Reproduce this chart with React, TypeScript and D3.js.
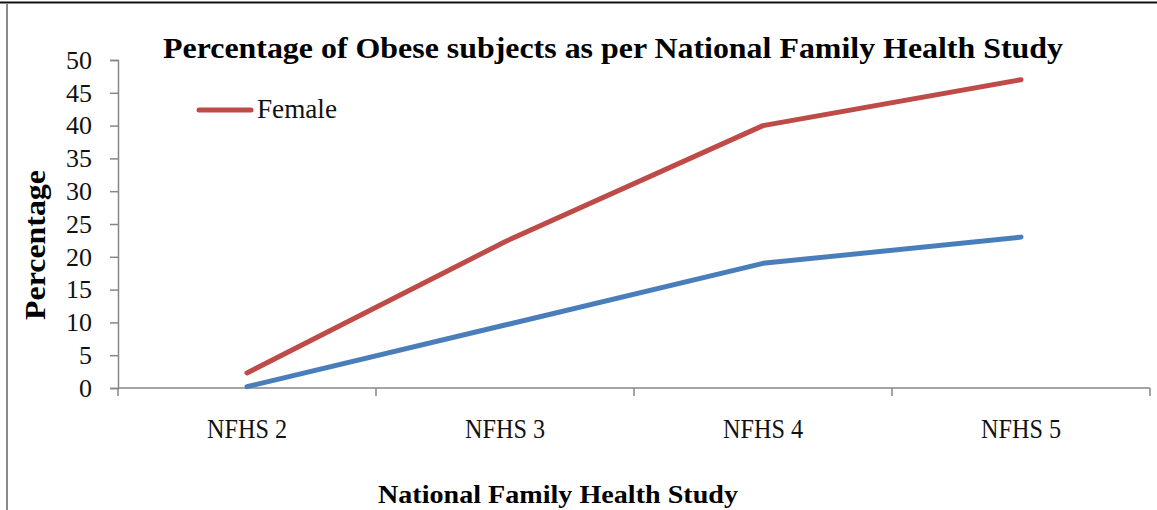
import React, { useEffect, useRef } from 'react';
import * as d3 from 'd3';

// data
const categories = ['NFHS 2', 'NFHS 3', 'NFHS 4', 'NFHS 5'];
const female = [2.3, 22.3, 40, 47];
const male = [0.2, 9.6, 19, 23];
const yTicks = [0, 5, 10, 15, 20, 25, 30, 35, 40, 45, 50];

const App = () => {
  const ref = useRef<SVGSVGElement>(null);

  useEffect(() => {
    const width = 1157;
    const height = 510;
    // plot area
    const left = 118;
    const right = 1150;
    const top = 60;
    const bottom = 388;

    const svg = d3.select(ref.current);
    svg.selectAll('*').remove();
    svg.attr('width', width).attr('height', height);

    svg.append('rect').attr('width', width).attr('height', height).attr('fill', '#fff');

    // frame: dark top edge, grey left edge
    svg.append('line').attr('x1', 0).attr('x2', width).attr('y1', 2.5).attr('y2', 2.5)
      .attr('stroke', '#111').attr('stroke-width', 2);
    svg.append('line').attr('x1', 7).attr('x2', 7).attr('y1', 3).attr('y2', height)
      .attr('stroke', '#8a8a8a').attr('stroke-width', 2);

    const x = d3.scaleBand<string>().domain(categories).range([left, right]);
    const y = d3.scaleLinear().domain([0, 50]).range([bottom, top]);

    const grey = '#868686';
    const tickFont = '"Liberation Serif", serif';

    // y axis
    const yAxis = svg.append('g').attr('transform', `translate(${left},0)`)
      .call(d3.axisLeft(y).tickValues(yTicks).tickSize(8).tickPadding(18).tickSizeOuter(8));
    yAxis.select('.domain').attr('stroke', grey).attr('stroke-width', 1.5);
    yAxis.selectAll('.tick line').attr('stroke', grey).attr('stroke-width', 1.5);
    yAxis.selectAll('.tick text')
      .attr('fill', '#111')
      .attr('font-family', tickFont)
      .attr('font-size', 26);

    // x axis with ticks on the category boundaries
    const xg = svg.append('g').attr('transform', `translate(0,${bottom})`);
    xg.append('line').attr('x1', left).attr('x2', right).attr('stroke', grey).attr('stroke-width', 1.5);
    const bounds = categories.map(c => x(c) as number).concat([right]);
    xg.selectAll('line.tk').data(bounds).enter().append('line')
      .attr('class', 'tk')
      .attr('x1', d => d).attr('x2', d => d)
      .attr('y1', 0).attr('y2', 8)
      .attr('stroke', grey).attr('stroke-width', 1.5);
    xg.selectAll('text').data(categories).enter().append('text')
      .attr('x', d => (x(d) as number) + x.bandwidth() / 2)
      .attr('y', 50)
      .attr('text-anchor', 'middle')
      .attr('font-family', tickFont)
      .attr('font-size', 27)
      .attr('textLength', 80)
      .attr('lengthAdjust', 'spacingAndGlyphs')
      .attr('fill', '#111')
      .text(d => d);

    // lines
    const cx = (i: number) => (x(categories[i]) as number) + x.bandwidth() / 2;
    const line = d3.line<number>().x((d, i) => cx(i)).y(d => y(d));
    svg.append('path').datum(male).attr('d', line)
      .attr('fill', 'none').attr('stroke', '#4a7ebb').attr('stroke-width', 5)
      .attr('stroke-linecap', 'round').attr('stroke-linejoin', 'round');
    svg.append('path').datum(female).attr('d', line)
      .attr('fill', 'none').attr('stroke', '#be4b48').attr('stroke-width', 5)
      .attr('stroke-linecap', 'round').attr('stroke-linejoin', 'round');

    // legend
    svg.append('line').attr('x1', 199).attr('x2', 251).attr('y1', 110).attr('y2', 110)
      .attr('stroke', '#be4b48').attr('stroke-width', 5).attr('stroke-linecap', 'round');
    svg.append('text').attr('x', 257).attr('y', 118)
      .attr('font-family', tickFont).attr('font-size', 27).attr('fill', '#111')
      .attr('textLength', 80).attr('lengthAdjust', 'spacingAndGlyphs')
      .text('Female');

    // title
    svg.append('text').attr('x', 613).attr('y', 58)
      .attr('text-anchor', 'middle')
      .attr('font-family', '"Liberation Serif", serif').attr('font-weight', 'bold')
      .attr('font-size', 30).attr('fill', '#000')
      .attr('textLength', 900).attr('lengthAdjust', 'spacingAndGlyphs')
      .text('Percentage of Obese subjects as per National Family Health Study');

    // axis titles
    svg.append('text')
      .attr('transform', 'translate(45,245) rotate(-90)')
      .attr('text-anchor', 'middle')
      .attr('font-family', '"Liberation Serif", serif').attr('font-weight', 'bold')
      .attr('font-size', 30).attr('fill', '#000')
      .attr('textLength', 150).attr('lengthAdjust', 'spacingAndGlyphs')
      .text('Percentage');
    svg.append('text').attr('x', 558).attr('y', 503)
      .attr('text-anchor', 'middle')
      .attr('font-family', '"Liberation Serif", serif').attr('font-weight', 'bold')
      .attr('font-size', 25).attr('fill', '#000')
      .attr('textLength', 360).attr('lengthAdjust', 'spacingAndGlyphs')
      .text('National Family Health Study');
  }, []);

  return (
    <svg ref={ref} style={{ position: 'absolute', left: 0, top: 0, display: 'block' }} />
  );
};

export default App;
